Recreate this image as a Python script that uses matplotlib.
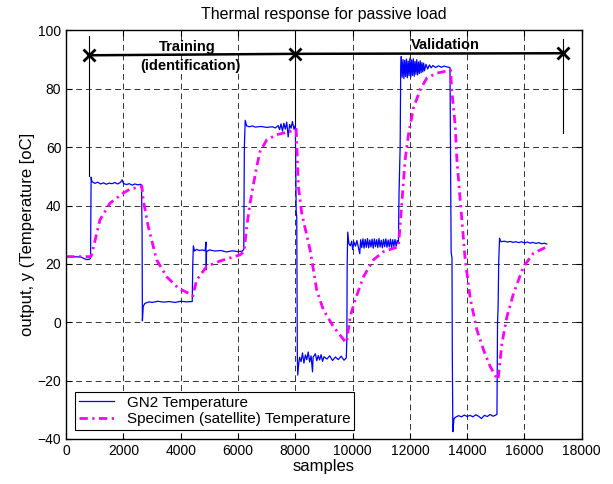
import numpy as np
import matplotlib.pyplot as plt

plt.rcParams['font.family'] = ['Liberation Sans', 'DejaVu Sans']

# GN2 temperature (blue)
gn2_samples = [
    0, 500, 700, 820, 850,
    870, 900, 1000, 1100, 1200, 1300, 1400, 1500, 1600, 1700, 1800, 1900, 1950, 2000,
    2100, 2200, 2300, 2400, 2500, 2600, 2630,
    2650, 2660, 2690, 2750, 2900, 3000, 3200, 3400, 3600, 3800, 4000, 4200, 4400,
    4420, 4440, 4480, 4550, 4650, 4750, 4850, 4880, 4890, 4900, 5000, 5200, 5400,
    5600, 5800, 6000, 6150, 6200,
    6220, 6250, 6300, 6400, 6500, 6600, 6800, 7000, 7200, 7300, 7400, 7450, 7500,
    7550, 7600, 7650, 7700, 7750, 7800, 7850, 7900, 7950, 8000,
    8030, 8050, 8070, 8085, 8120, 8150, 8200, 8250, 8300, 8350, 8400, 8450, 8500,
    8550, 8600, 8620, 8700, 8750, 8800, 8850, 8900, 8950, 9000, 9100, 9200, 9300,
    9400, 9500, 9600, 9700, 9780,
    9800, 9810, 9830, 9870, 9920, 9970, 10000, 10050, 10100, 10150, 10200, 10250,
    10280, 10320, 10360, 10400, 10440, 10480, 10520, 10560, 10600, 10640, 10680,
    10720, 10760, 10800, 10840, 10880, 10920, 10960, 11000, 11040, 11080, 11120,
    11160, 11200, 11240, 11280, 11320, 11360, 11400, 11440, 11480, 11520, 11560, 11600,
    11620, 11660, 11680, 11700, 11730, 11760, 11790, 11820, 11850, 11880, 11910,
    11940, 11970, 12000, 12030, 12060, 12090, 12120, 12150, 12180, 12210, 12240,
    12270, 12300, 12330, 12360, 12390, 12420, 12450, 12480, 12510, 12560, 12620,
    12680, 12740, 12800, 12900, 13000, 13100, 13200, 13300, 13400,
    13420, 13440, 13470, 13480, 13500, 13540, 13600, 13700, 13800, 13900, 14000,
    14100, 14200, 14300, 14400, 14500, 14600, 14700, 14800, 14900, 15000, 15040,
    15060, 15080, 15100, 15130, 15180, 15300, 15400, 15500, 15600, 15700, 15800,
    15900, 16000, 16100, 16200, 16300, 16400, 16500, 16600, 16700, 16780,
]
gn2_temp = [
    22.5, 22.4, 21.5, 21.6, 22.0,
    49.7, 48.2, 47.6, 48.0, 47.4, 47.8, 47.3, 47.7, 47.5, 47.9, 47.4, 48.0, 48.8, 47.6,
    47.2, 47.5, 47.0, 47.4, 47.1, 47.3, 46.8,
    30.0, 0.5, 5.5, 6.5, 7.0, 6.8, 7.2, 6.9, 7.1, 6.8, 7.2, 7.0, 7.1,
    20.0, 26.2, 24.4, 25.0, 24.6, 24.8, 24.5, 27.5, 18.0, 24.2, 24.8, 24.4, 24.6,
    24.1, 24.5, 24.2, 24.4, 25.0,
    60.0, 69.2, 67.3, 67.0, 67.3, 66.9, 67.1, 66.8, 67.0, 66.6, 67.4, 66.0, 68.0,
    65.5, 68.2, 66.2, 68.6, 63.5, 67.8, 66.5, 68.8, 66.2, 67.5,
    38.0, 36.0, -12.0, -18.1, -14.0, -12.0, -13.5, -10.5, -14.0, -11.2, -12.8, -10.2, -13.6,
    -11.5, -17.0, -12.0, -10.8, -13.2, -11.4, -12.9, -11.1, -13.4, -11.8, -12.6, -11.5, -13.1,
    -11.9, -12.8, -11.6, -13.0, -12.2,
    -5.0, 20.0, 30.9, 27.0, 26.2, 27.8, 24.9, 27.5, 26.1, 28.0, 25.8, 23.5,
    28.3, 25.6, 28.6, 25.4, 28.4, 25.7, 28.7, 25.5, 28.2, 25.8, 28.5,
    25.4, 28.6, 25.9, 28.3, 25.6, 28.7, 25.8, 28.1, 25.5, 28.4, 25.9,
    28.6, 25.7, 28.2, 25.8, 28.5, 25.6, 28.3, 26.0, 28.4, 26.1, 28.0, 27.0,
    44.0, 60.0, 88.0, 91.1, 84.0, 90.0, 83.5, 89.8, 84.2, 90.2, 83.8,
    89.5, 84.5, 90.5, 84.0, 89.9, 84.6, 90.3, 84.3, 89.4, 85.0, 90.0,
    84.8, 89.2, 85.3, 89.6, 85.5, 89.0, 85.8, 88.8, 86.2, 88.4, 86.8,
    88.2, 87.2, 88.0, 87.3, 87.9, 87.4, 87.8, 87.5, 87.3,
    55.0, 24.0, 22.0, -10.0, -37.5, -33.0, -32.5, -32.0, -32.4, -31.8, -32.3,
    -31.9, -32.4, -31.7, -32.2, -33.0, -31.9, -32.3, -31.6, -32.2, -31.8, -31.5,
    0.0, 5.0, 20.0, 28.8, 27.6, 27.8, 27.5, 27.7, 27.4, 27.6, 27.3,
    27.6, 27.2, 27.5, 27.1, 27.4, 27.0, 27.3, 26.9, 27.1, 26.8,
]

# specimen (satellite) temperature (magenta)
spec_samples = [
    0, 400, 850, 887, 1177, 1527, 1993, 2226, 2610, 2640,
    2690, 2865, 3158, 3508, 3913, 4380, 4420,
    4555, 4905, 5370, 6069, 6209,
    6303, 6418, 6652, 6768, 7002, 7351, 7816, 7991, 8030,
    8107, 8224, 8515, 8748, 8980, 9330, 9563, 9738, 9790,
    9913, 10087, 10378, 10727, 11076, 11600,
    11718, 11834, 11950, 12124, 12358, 12592, 12941, 13347, 13420,
    13466, 13581, 13641, 13756, 13931, 14106, 14339, 14572, 14805, 15038, 15080,
    15213, 15388, 15619, 15968, 16317, 16726, 16800,
]
spec_temp = [
    22.5, 22.5, 22.5, 23.1, 35.1, 40.8, 44.3, 45.6, 46.5, 46.8,
    42.0, 32.8, 21.4, 15.6, 11.7, 9.4, 9.0,
    14.5, 19.1, 21.0, 23.1, 24.2,
    32.8, 40.8, 53.4, 58.5, 62.5, 64.3, 65.4, 66.0, 66.2,
    46.5, 37.4, 24.8, 11.0, 4.2, -1.5, -4.4, -6.6, -6.9,
    1.9, 7.6, 15.6, 21.4, 24.2, 25.9,
    40.8, 55.7, 64.3, 73.4, 79.7, 83.7, 85.4, 86.2, 86.4,
    79.1, 67.7, 55.7, 42.0, 21.4, 8.2, -2.6, -9.5, -15.2, -19.2, -19.6,
    -7.2, 1.9, 9.9, 19.1, 23.7, 25.6, 25.8,
]

# training / validation markers
mark_samples = [800, 8000, 17350]
mark_temp = [91.5, 92.0, 92.2]
mark_drop = [50, 68, 65]

fig = plt.figure(figsize=(6.13, 4.84), dpi=100)
ax = fig.add_axes([0.108, 0.093, 0.841, 0.844])

ax.plot(gn2_samples, gn2_temp, color='#0000FF', lw=0.9, label='GN2 Temperature')
ax.plot(spec_samples, spec_temp, color='#FF00FF', lw=2.0, ls=(0, (3, 1.6, 0.8, 1.6)),
        label='Specimen (satellite) Temperature')

for xs, ytop, ybot in zip(mark_samples, [98, 98, 97], mark_drop):
    ax.plot([xs, xs], [ybot, ytop], color='k', lw=0.8)
ax.plot(mark_samples, mark_temp, color='k', lw=1.8, marker='x', ms=9, mew=2)

ax.text(4240, 94.3, 'Training', ha='center', va='center', fontsize=10.5, fontweight='bold')
ax.text(4345, 87.7, '(identification)', ha='center', va='center', fontsize=10.5, fontweight='bold')
ax.text(13230, 95.1, 'Validation', ha='center', va='center', fontsize=10.5, fontweight='bold')

ax.set_xlim(0, 18000)
ax.set_ylim(-40, 100)
ax.set_xticks(np.arange(0, 18001, 2000))
ax.set_yticks(np.arange(-40, 101, 20))
ax.tick_params(direction='in', top=True, right=True, labelsize=10, length=4)
ax.grid(True, color='k', ls=(0, (6, 4)), lw=0.7, alpha=0.8)
for sp in ax.spines.values():
    sp.set_linewidth(1.0)

ax.set_title('Thermal response for passive load', fontsize=11.5, pad=8)
ax.set_xlabel('samples', fontsize=12, labelpad=1)
ax.set_ylabel('output, y (Temperature [oC]', fontsize=12, labelpad=2)

leg = ax.legend(loc='lower left', fontsize=11, fancybox=False, edgecolor='k',
                framealpha=1, borderaxespad=0.6, handlelength=2.3,
                borderpad=0.25, labelspacing=0.15)
leg.get_frame().set_linewidth(0.8)

fig.savefig('out.png', dpi=100)
